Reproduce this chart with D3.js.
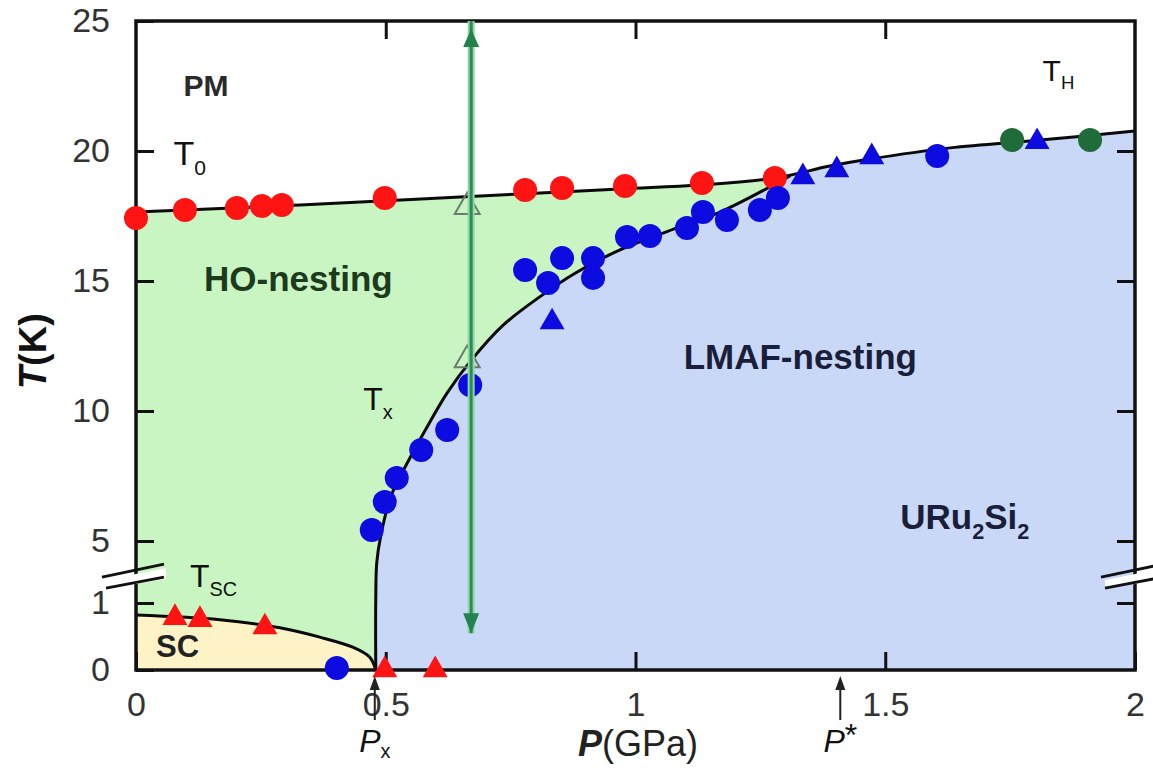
<!DOCTYPE html>
<html>
<head>
<meta charset="utf-8">
<script src="https://cdn.jsdelivr.net/npm/d3@7"></script>
<style>
  html, body { margin: 0; padding: 0; background: #fff; }
  svg { display: block; font-family: "Liberation Sans", Arial, sans-serif; }
</style>
</head>
<body>
<svg id="chart" width="1153" height="768"></svg>
<script>
// ---------- data (P in GPa, T in K) ----------
const xTicks = [0, 0.5, 1, 1.5, 2];
const xTickLabels = ["0", "0.5", "1", "1.5", "2"];
const yTicks = [0, 1, 5, 10, 15, 20, 25];
const yTickLabels = ["0", "1", "5", "10", "15", "20", "25"];

// T0 / TH transition line
const t0LineP = [0, 0.328, 0.649, 0.969, 1.129, 1.279, 1.389, 1.469, 1.630, 1.810, 2.0];
const t0LineT = [17.65, 17.92, 18.23, 18.54, 18.69, 18.96, 19.42, 19.69, 20.12, 20.42, 20.77];
// Tx / TN boundary (HO -> LMAF)
const txCurveP = [0.480, 0.480, 0.482, 0.490, 0.510, 0.543, 0.589, 0.623, 0.669, 0.735, 0.809, 0.879, 0.969, 1.063, 1.169, 1.31];
const txCurveT = [0, 1.2, 3.6, 5.2, 6.7, 8.0, 9.6, 10.7, 11.9, 13.3, 14.4, 15.3, 16.2, 16.9, 17.65, 19.05];
// Tsc line
const scCurveP = [0, 0.168, 0.288, 0.368, 0.434, 0.468, 0.480];
const scCurveT = [0.82, 0.75, 0.63, 0.49, 0.34, 0.19, 0.0];

// markers
const redCircleP = [0, 0.098, 0.202, 0.252, 0.292, 0.498, 0.779, 0.853, 0.979, 1.133, 1.279];
const redCircleT = [17.42, 17.73, 17.81, 17.88, 17.92, 18.19, 18.50, 18.58, 18.65, 18.77, 18.96];
const blueCircleP = [0.402, 0.472, 0.498, 0.522, 0.571, 0.623, 0.669, 0.779, 0.825, 0.853, 0.915, 0.915, 0.983, 1.029, 1.103, 1.135, 1.183, 1.249, 1.285, 1.604];
const blueCircleT = [0.03, 5.42, 6.5, 7.42, 8.5, 9.27, 11.0, 15.42, 14.92, 15.88, 15.88, 15.12, 16.69, 16.73, 17.04, 17.65, 17.35, 17.73, 18.19, 19.81];
const blueTriP = [0.833, 1.335, 1.403, 1.473, 1.804];
const blueTriT = [13.42, 19.0, 19.27, 19.77, 20.35];
const greenCircleP = [1.754, 1.910];
const greenCircleT = [20.42, 20.42];
const redTriP = [0.078, 0.128, 0.258, 0.498, 0.599];
const redTriT = [0.78, 0.75, 0.64, 0, 0];
const openTriP = [0.663, 0.663];
const openTriT = [17.85, 11.96];
// vertical green double arrow
const arrowP = 0.671;
const arrowT = [25, 0.55];

// ---------- scales ----------
const svg = d3.select("#chart");
const x = d3.scaleLinear().domain([0, 2]).range([136, 1135]);
const y = d3.scaleLinear().domain([0, 1, 5, 25]).range([670, 603, 541, 21]);

const zip = (a, b) => a.map((v, i) => [v, b[i]]);
const lineCR = d3.line().x(d => x(d[0])).y(d => y(d[1])).curve(d3.curveCatmullRom.alpha(0.5));

const t0Pts = zip(t0LineP, t0LineT);
const txPts = zip(txCurveP, txCurveT);
const scPts = zip(scCurveP, scCurveT);

// clip
svg.append("defs").append("clipPath").attr("id", "plotclip")
  .append("rect").attr("x", x(0)).attr("y", y(25)).attr("width", x(2) - x(0)).attr("height", y(0) - y(25));

const fills = svg.append("g").attr("clip-path", "url(#plotclip)");
// HO green (under T0 line)
fills.append("path")
  .attr("d", lineCR(t0Pts) + `L${x(2)},${y(0)}L${x(0)},${y(0)}Z`)
  .attr("fill", "#c9f5c2");
// LMAF blue
const merge = txPts[txPts.length - 1];
const t0After = [merge].concat(t0Pts.filter(d => d[0] > merge[0] + 0.02));
fills.append("path")
  .attr("d", lineCR(txPts) + lineCR(t0After).replace(/^M/, "L") + `L${x(2)},${y(0)}Z`)
  .attr("fill", "#c9d8f7");
// SC yellow
fills.append("path")
  .attr("d", lineCR(scPts) + `L${x(0)},${y(0)}Z`)
  .attr("fill", "#fdf3c6");

// ---------- curves ----------
const lines = svg.append("g").attr("clip-path", "url(#plotclip)")
  .attr("fill", "none").attr("stroke", "#0a0a0a").attr("stroke-width", 3);
lines.append("path").attr("d", lineCR(t0Pts));
lines.append("path").attr("d", lineCR(txPts));
lines.append("path").attr("d", lineCR(scPts));

// ---------- axes (inward ticks) ----------
const tickLen = 18;
const axisFont = 34;
const gL = svg.append("g").attr("transform", `translate(${x(0)},0)`)
  .call(d3.axisLeft(y).tickValues(yTicks).tickFormat((d, i) => yTickLabels[i]).tickSizeInner(-tickLen).tickSizeOuter(0).tickPadding(26));
const gB = svg.append("g").attr("transform", `translate(0,${y(0)})`)
  .call(d3.axisBottom(x).tickValues(xTicks).tickFormat((d, i) => xTickLabels[i]).tickSizeInner(-tickLen).tickSizeOuter(0).tickPadding(22));
const gR = svg.append("g").attr("transform", `translate(${x(2)},0)`)
  .call(d3.axisRight(y).tickValues(yTicks.slice(1, 6)).tickFormat("").tickSizeInner(-tickLen).tickSizeOuter(0));
const gT = svg.append("g").attr("transform", `translate(0,${y(25)})`)
  .call(d3.axisTop(x).tickValues(xTicks.slice(1, 4)).tickFormat("").tickSizeInner(-tickLen).tickSizeOuter(0));
[gL, gB, gR, gT].forEach(g => {
  g.select(".domain").remove();
  g.selectAll(".tick line").attr("stroke", "#111").attr("stroke-width", 3);
  g.selectAll(".tick text").attr("font-size", axisFont).attr("fill", "#333")
    .attr("font-family", "'Liberation Sans', Arial, sans-serif");
});

// frame
svg.append("rect").attr("x", x(0)).attr("y", y(25)).attr("width", x(2) - x(0)).attr("height", y(0) - y(25))
  .attr("fill", "none").attr("stroke", "#111").attr("stroke-width", 3.5);

// axis breaks
function brk(cx) {
  const yb = y(2.8);
  const g = svg.append("g");
  g.append("polygon")
    .attr("points", `${cx - 30},${yb + 5} ${cx + 30},${yb - 7} ${cx + 30},${yb + 4} ${cx - 30},${yb + 14}`)
    .attr("fill", "#fff");
  g.append("line").attr("x1", cx - 34).attr("y1", yb + 2).attr("x2", cx + 28).attr("y2", yb - 11)
    .attr("stroke", "#111").attr("stroke-width", 3);
  g.append("line").attr("x1", cx - 30).attr("y1", yb + 13).attr("x2", cx + 28).attr("y2", yb + 2)
    .attr("stroke", "#111").attr("stroke-width", 3);
}
brk(x(0));
brk(x(2));

// ---------- markers ----------
const mk = svg.append("g");
const tri = d3.symbol().type(d3.symbolTriangle).size(270);
function circles(P, T, fill, r) {
  mk.selectAll(null).data(zip(P, T)).enter().append("circle")
    .attr("cx", d => x(d[0])).attr("cy", d => y(d[1])).attr("r", r).attr("fill", fill);
}
function tris(P, T, fill, stroke) {
  mk.selectAll(null).data(zip(P, T)).enter().append("path")
    .attr("d", tri).attr("transform", d => `translate(${x(d[0])},${y(d[1])})`)
    .attr("fill", fill).attr("stroke", stroke || "none").attr("stroke-width", 2);
}
circles(redCircleP, redCircleT, "#ff1414", 12);
circles(blueCircleP, blueCircleT, "#0c0ce0", 12);
circles(greenCircleP, greenCircleT, "#1f6b3a", 12);
tris(blueTriP, blueTriT, "#0c0ce0");
tris(redTriP, redTriT, "#ff1414");

// green double arrow
const ax = x(arrowP);
const ay1 = y(arrowT[0]), ay2 = y(arrowT[1]);
svg.append("line").attr("x1", ax).attr("x2", ax).attr("y1", ay1).attr("y2", ay2)
  .attr("stroke", "#8fd6a6").attr("stroke-width", 7);
svg.append("line").attr("x1", ax).attr("x2", ax).attr("y1", ay1).attr("y2", ay2)
  .attr("stroke", "#2e8b57").attr("stroke-width", 3);
svg.append("path").attr("d", `M${ax},${ay1 + 8}L${ax - 8},${ay1 + 26}L${ax + 8},${ay1 + 26}Z`).attr("fill", "#23824d");
svg.append("path").attr("d", `M${ax},${ay2}L${ax - 8},${ay2 - 20}L${ax + 8},${ay2 - 20}Z`).attr("fill", "#23824d");

tris(openTriP, openTriT, "none", "#6f7a6f");

// ---------- text labels ----------
const F = "'Liberation Sans', Arial, sans-serif";
function label(px, py, parts, opts) {
  const t = svg.append("text").attr("x", px).attr("y", py)
    .attr("font-family", F).attr("font-size", opts.size).attr("fill", opts.fill || "#222")
    .attr("font-weight", opts.weight || "normal").attr("text-anchor", opts.anchor || "start");
  const subShift = opts.subShift != null ? opts.subShift : 0.28;
  parts.forEach(p => {
    const s = t.append("tspan").text(p.t);
    if (p.sub) s.attr("font-size", opts.size * 0.62).attr("dy", opts.size * subShift);
    if (p.up) s.attr("dy", -opts.size * subShift);
    if (p.italic) s.attr("font-style", "italic");
  });
  return t;
}
label(x(0.14), y(22.1), [{ t: "PM" }], { size: 30, weight: "bold", fill: "#2a2a2a", anchor: "middle" });
label(x(0.075), y(19.45), [{ t: "T" }, { t: "0", sub: true }], { size: 34, fill: "#111" });
label(x(0.325), y(14.6), [{ t: "HO-nesting" }], { size: 35, weight: "bold", fill: "#1d3a1d", anchor: "middle" });
label(x(1.33), y(11.6), [{ t: "LMAF-nesting" }], { size: 35, weight: "bold", fill: "#1a1e3a", anchor: "middle" });
label(x(1.53), y(5.45), [{ t: "URu" }, { t: "2", sub: true }, { t: "Si", up: true }, { t: "2", sub: true }], { size: 35, weight: "bold", fill: "#1a1e3a", anchor: "start" });
label(x(0.455), y(10.05), [{ t: "T" }, { t: "x", sub: true }], { size: 32, fill: "#111" });
label(x(0.108), y(2.05), [{ t: "T" }, { t: "SC", sub: true }], { size: 32, fill: "#111" });
label(x(0.04), y(0.05) - 10, [{ t: "SC" }], { size: 31, weight: "bold", fill: "#222" });
label(x(1.815), y(22.7), [{ t: "T" }, { t: "H", sub: true }], { size: 30, fill: "#111" });

// axis titles
const yt = svg.append("text").attr("transform", `translate(46,${y(12.3)}) rotate(-90)`)
  .attr("text-anchor", "middle").attr("font-family", F).attr("font-size", 38).attr("font-weight", "bold").attr("fill", "#111");
yt.append("tspan").text("T").attr("font-style", "italic");
yt.append("tspan").text("(K)");
const xt = svg.append("text").attr("x", x(1.005)).attr("y", 756)
  .attr("text-anchor", "middle").attr("font-family", F).attr("font-size", 36).attr("fill", "#222");
xt.append("tspan").text("P").attr("font-style", "italic").attr("font-weight", "bold");
xt.append("tspan").text("(GPa)");

// Px and P* markers under the axis
function pMark(pv, parts) {
  const px = x(pv);
  svg.append("line").attr("x1", px).attr("x2", px).attr("y1", 720).attr("y2", 684)
    .attr("stroke", "#222").attr("stroke-width", 2);
  svg.append("path").attr("d", `M${px},${676}L${px - 5},${690}L${px + 5},${690}Z`).attr("fill", "#222");
  label(px, 752, parts, { size: 32, fill: "#111", anchor: "middle", subShift: 0.2 });
}
pMark(0.478, [{ t: "P", italic: true }, { t: "x", sub: true }]);
pMark(1.41, [{ t: "P", italic: true }, { t: "*", up: true }]);
</script>
</body>
</html>
